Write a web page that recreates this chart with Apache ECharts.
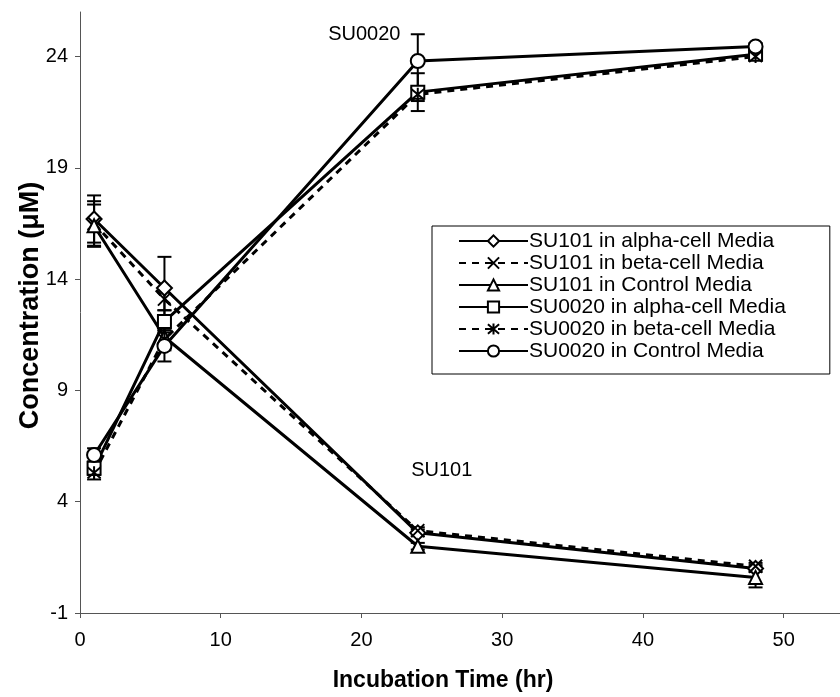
<!DOCTYPE html>
<html>
<head>
<meta charset="utf-8">
<script src="https://cdn.jsdelivr.net/npm/echarts@6/dist/echarts.min.js"></script>
<style>
html,body{margin:0;padding:0;background:#fff;}
#chart{width:840px;height:697px;}
</style>
</head>
<body>
<div id="chart"></div>
<script>
// ---- data ----
var timesHr = [1, 6, 24, 48];
var seriesNames = [
  'SU101 in alpha-cell Media',
  'SU101 in beta-cell Media',
  'SU101 in Control Media',
  'SU0020 in alpha-cell Media',
  'SU0020 in beta-cell Media',
  'SU0020 in Control Media'
];
var su101Alpha   = [16.7, 13.6, 2.6, 1.0];
var su101Beta    = [16.5, 13.1, 2.7, 1.1];
var su101Control = [16.4, 11.4, 2.0, 0.6];
var su0020Alpha   = [5.5, 12.1, 22.4, 24.1];
var su0020Beta    = [5.3, 11.3, 22.3, 24.0];
var su0020Control = [6.1, 11.0, 23.8, 24.45];

var su101AlphaErr   = [1.06, 1.4, 0.15, 0.15];
var su101BetaErr    = [1.0, 0.5, 0.15, 0.15];
var su101ControlErr = [0.95, 0.6, 0.15, 0.45];
var su0020AlphaErr   = [0.3, 0.5, 0.85, 0.15];
var su0020BetaErr    = [0.3, 0.4, 0.3, 0.15];
var su0020ControlErr = [0.3, 0.7, 1.2, 0.15];

var xTicks = [0, 10, 20, 30, 40, 50];
var yTicks = [-1, 4, 9, 14, 19, 24];

var annotationTexts = ['SU0020', 'SU101'];
var annotationX = [20.2, 25.7];
var annotationY = [25.0, 5.4];

// ---- build ----
var values = [su101Alpha, su101Beta, su101Control, su0020Alpha, su0020Beta, su0020Control];
var errors = [su101AlphaErr, su101BetaErr, su101ControlErr, su0020AlphaErr, su0020BetaErr, su0020ControlErr];
var dashed = [false, true, false, false, true, false];
var symbols = [
  'diamond',
  'path://M0,0L10,10M10,0L0,10',
  'triangle',
  'rect',
  'path://M0,0L10,10M10,0L0,10M5,-1L5,11',
  'circle'
];
var symbolSizes = [15, 13, 13, 13, 13, 14];

var FONT = '"Liberation Sans", Arial, Helvetica, sans-serif';

var series = [];
var errData = [];
for (var s = 0; s < values.length; s++) {
  var pts = [];
  for (var i = 0; i < timesHr.length; i++) {
    pts.push([timesHr[i], values[s][i]]);
    errData.push([timesHr[i], values[s][i] - errors[s][i], values[s][i] + errors[s][i]]);
  }
  series.push({
    name: seriesNames[s],
    type: 'line',
    data: pts,
    symbol: symbols[s],
    symbolSize: symbolSizes[s],
    showAllSymbol: true,
    lineStyle: { color: '#000', width: 3, type: dashed[s] ? [7, 6] : 'solid' },
    itemStyle: { color: '#fff', borderColor: '#000', borderWidth: 2 },
    emphasis: { disabled: true },
    z: 3,
    animation: false
  });
}

series.unshift({
  type: 'custom',
  name: 'err',
  data: errData,
  z: 2,
  animation: false,
  renderItem: function (params, api) {
    var x = api.value(0);
    var lo = api.coord([x, api.value(1)]);
    var hi = api.coord([x, api.value(2)]);
    var hw = 7;
    var st = { stroke: '#000', lineWidth: 2 };
    return {
      type: 'group',
      children: [
        { type: 'line', shape: { x1: lo[0], y1: lo[1], x2: hi[0], y2: hi[1] }, style: st },
        { type: 'line', shape: { x1: lo[0] - hw, y1: lo[1], x2: lo[0] + hw, y2: lo[1] }, style: st },
        { type: 'line', shape: { x1: hi[0] - hw, y1: hi[1], x2: hi[0] + hw, y2: hi[1] }, style: st }
      ]
    };
  }
});

var annData = [];
for (var a = 0; a < annotationTexts.length; a++) {
  annData.push({ name: annotationTexts[a], value: [annotationX[a], annotationY[a]] });
}
series.push({
  type: 'scatter',
  name: 'annotations',
  data: annData,
  symbolSize: 1,
  itemStyle: { color: 'rgba(0,0,0,0)', opacity: 1 },
  label: {
    show: true, position: 'inside', formatter: '{b}',
    color: '#000', opacity: 1, fontSize: 20, fontFamily: FONT
  },
  silent: true,
  animation: false
});

var chart = echarts.init(document.getElementById('chart'));
chart.setOption({
  backgroundColor: '#fff',
  animation: false,
  grid: { left: 80, right: 0, top: 12, bottom: 84, containLabel: false },
  legend: {
    data: seriesNames,
    orient: 'vertical',
    left: 432,
    top: 226,
    itemWidth: 69,
    itemHeight: 14,
    itemGap: 0,
    padding: [4, 44, 12, 26],
    borderColor: '#000',
    borderWidth: 1,
    backgroundColor: '#fff',
    textStyle: { color: '#000', fontSize: 21, fontFamily: FONT, lineHeight: 22, padding: [0, 0, 0, -4] }
  },
  xAxis: {
    type: 'value',
    min: 0,
    max: 54,
    name: 'Incubation Time (hr)',
    nameLocation: 'middle',
    nameGap: 56,
    nameTextStyle: { color: '#000', fontSize: 23, fontWeight: 'bold', fontFamily: FONT, padding: [0, 34, 0, 0] },
    axisLine: { show: true, onZero: false, lineStyle: { color: '#555', width: 1 } },
    axisTick: { show: true, length: 5, customValues: xTicks, lineStyle: { color: '#555' } },
    axisLabel: { customValues: xTicks, color: '#000', fontSize: 20, fontFamily: FONT, margin: 17 },
    splitLine: { show: false }
  },
  yAxis: {
    type: 'value',
    min: -1,
    max: 26,
    name: 'Concentration (\u03BCM)',
    nameLocation: 'middle',
    nameGap: 36,
    nameMoveOverlap: false,
    nameTextStyle: { color: '#000', fontSize: 27, fontWeight: 'bold', fontFamily: FONT, padding: [0, 0, 0, 14] },
    axisLine: { show: true, onZero: false, lineStyle: { color: '#555', width: 1 } },
    axisTick: { show: true, length: 5, customValues: yTicks, lineStyle: { color: '#555' } },
    axisLabel: { customValues: yTicks, color: '#000', fontSize: 20, fontFamily: FONT, margin: 12 },
    splitLine: { show: false }
  },
  series: series
});
</script>
</body>
</html>
